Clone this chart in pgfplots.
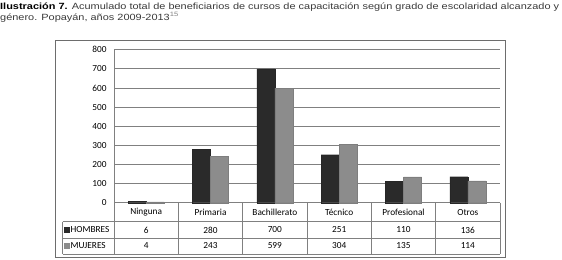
\documentclass[border=0pt]{standalone}
\usepackage{pgfplots}
\pgfplotsset{compat=1.18}
\usepackage{pgfplotstable}
\usepackage{graphicx}
\usepackage{fontspec}
\setmainfont{Carlito}
\newfontfamily\titlefont{Liberation Sans}
\definecolor{barA}{HTML}{2A2A2A}
\definecolor{barB}{HTML}{8C8C8C}
\definecolor{gridc}{HTML}{808080}
\definecolor{titlec}{HTML}{3A3A3A}
\pgfplotstableread{
x h m
0 6 4
1 280 243
2 700 599
3 251 304
4 110 135
5 136 114
}\data
\newlength\tlen
\newcommand\titlelineA{\titlefont\fontsize{9bp}{10bp}\selectfont\textbf{Ilustración 7.} \textcolor{titlec}{Acumulado total de beneficiarios de cursos de capacitación según grado de escolaridad alcanzado y}}
\newcommand\titlelineB{\titlefont\fontsize{9bp}{10bp}\selectfont\textcolor{titlec}{género. Popayán, años 2009-2013\textsuperscript{\textcolor{gray}{15}}}}
\newcommand\cf{\fontsize{9.3bp}{10bp}\selectfont}
\begin{document}
\settowidth\tlen{\titlelineA}%
\pgfmathsetmacro\sx{561.1/\tlen}%
\begin{tikzpicture}[x=1bp,y=1bp]
\useasboundingbox (0,0) rectangle (562,-259);
\node[anchor=base west, inner sep=0] at (0,-9.5) {\scalebox{\sx}[1]{\titlelineA}};
\node[anchor=base west, inner sep=0] at (0,-20.5) {\scalebox{\sx}[1]{\titlelineB}};
\begin{axis}[
  at={(114bp,-202.7bp)}, anchor=south west,
  scale only axis, width=386bp, height=153bp,
  xmin=-0.5, xmax=5.5, ymin=0, ymax=800,
  ytick={0,100,...,800},
  xtick={0,...,5},
  xticklabels={Ninguna,Primaria,Bachillerato,Técnico,Profesional,Otros},
  major tick length=0,
  /pgf/number format/assume math mode=true,
  axis lines*=left,
  axis line style={gridc, line width=0.8bp},
  ymajorgrids, grid style={gridc, line width=0.8bp},
  tick label style={font=\cf, black},
  xticklabel style={anchor=center, yshift=-9.5bp},
  yticklabel style={anchor=east, xshift=-4bp},
  clip=false,
  every node near coord/.style={font=\cf, anchor=center, black},
]
\addplot[ybar, bar width=18bp, bar shift=-9bp, fill=barA, draw=black!85] table[x=x,y=h]{\data};
\addplot[ybar, bar width=18bp, bar shift=9bp, fill=barB, draw=barB!90!black] table[x=x,y=m]{\data};
\addplot[draw=none, mark=none, nodes near coords, point meta=explicit] table[x=x, y expr=-142.2, meta=h]{\data};
\addplot[draw=none, mark=none, nodes near coords, point meta=explicit] table[x=x, y expr=-226.4, meta=m]{\data};
\end{axis}
\begin{scope}[gridc, line width=0.8bp]
\draw (62.7,-221.7) -- (500,-221.7);
\draw (62.7,-238) -- (500,-238);
\draw (62.7,-254) -- (500,-254);
\draw (62.7,-221.7) -- (62.7,-254);
\draw (114,-202.7) -- (114,-254);
\foreach \i in {1,...,6} {\draw ({114+64.333*\i},-202.7) -- ({114+64.333*\i},-254);}
\end{scope}
\node[anchor=west, inner sep=0, font=\cf] at (63.5,-229.9) {\textcolor{barA}{\rule{6bp}{6bp}}\hspace{1bp}HOMBRES};
\node[anchor=west, inner sep=0, font=\cf] at (63.5,-246) {\textcolor{barB}{\rule{6bp}{6bp}}\hspace{1bp}MUJERES};
\draw[gridc!85!black, line width=1bp] (55,-40.7) rectangle (505,-257);
\end{tikzpicture}
\end{document}
